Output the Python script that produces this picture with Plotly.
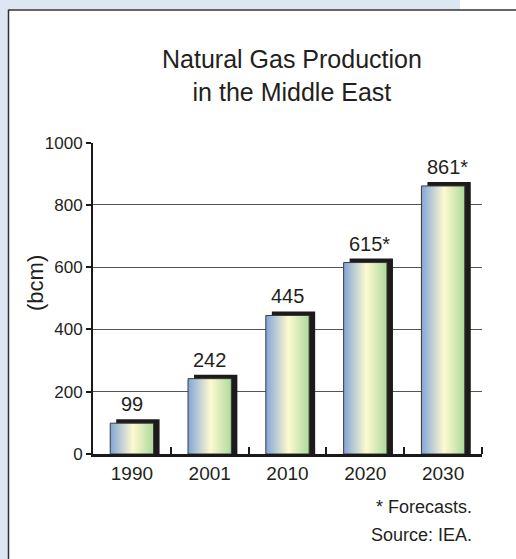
import plotly.graph_objects as go

# ---- data ----
years = ["1990", "2001", "2010", "2020", "2030"]
production_bcm = [99, 242, 445, 615, 861]
is_forecast = [False, False, False, True, True]
y_ticks = [0, 200, 400, 600, 800, 1000]

W, H = 516, 559
BG_BLUE = "#dde7f4"
TEXT = "#231f20"
FONT = "Liberation Sans, Arial, sans-serif"

# plot-area placement in pixels
px_left, px_right = 93, 482
px_zero, px_top = 454, 142.7
xdom = [px_left / W, px_right / W]
ydom = [(H - px_zero) / H, (H - px_top) / H]

n = len(years)
cat_px = (px_right - px_left) / n
unit_px = (px_zero - px_top) / 1000.0
bar_w = 0.557
sh_dx = 6 / cat_px
sh_dy = 4 / unit_px

idx = list(range(n))
fig = go.Figure()

# shadows
fig.add_trace(go.Bar(
    x=[i + sh_dx for i in idx],
    y=[v + sh_dy for v in production_bcm],
    width=bar_w,
    marker=dict(color="#1c1a1b", line=dict(width=0)),
    hoverinfo="skip", showlegend=False,
))

# gradient bars
for i, v in zip(idx, production_bcm):
    x0, x1 = i - bar_w / 2, i + bar_w / 2
    fig.add_trace(go.Scatter(
        x=[x0, x1, x1, x0, x0],
        y=[0, 0, v, v, 0],
        mode="lines",
        fill="toself",
        fillgradient=dict(
            type="horizontal",
            colorscale=[[0, "#82a5d8"], [0.52, "#fefad0"], [1, "#afd99d"]],
        ),
        line=dict(color="#3a3a3a", width=1),
        hoverinfo="skip", showlegend=False,
    ))

annotations = []
for i, v, f in zip(idx, production_bcm, is_forecast):
    annotations.append(dict(
        x=i, y=v, xref="x", yref="y",
        text=f"{v}" + ("*" if f else ""),
        showarrow=False, yanchor="bottom",
        yshift=6, xshift=4 if f else 0,
        font=dict(family=FONT, size=20, color=TEXT),
    ))

# title
annotations.append(dict(
    x=292 / W, y=1 - 75 / H, xref="paper", yref="paper",
    text="Natural Gas Production<br>in the Middle East",
    showarrow=False, xanchor="center", yanchor="middle",
    font=dict(family=FONT, size=25, color=TEXT),
))
# y-axis title
annotations.append(dict(
    x=35 / W, y=1 - 283 / H, xref="paper", yref="paper",
    text="(bcm)", textangle=-90, showarrow=False,
    xanchor="center", yanchor="middle",
    font=dict(family=FONT, size=22, color=TEXT),
))
# footnotes
annotations.append(dict(
    x=474 / W, y=1 - 507 / H, xref="paper", yref="paper",
    text="* Forecasts.", showarrow=False, xanchor="right", yanchor="middle",
    font=dict(family=FONT, size=18, color=TEXT),
))
annotations.append(dict(
    x=474 / W, y=1 - 535 / H, xref="paper", yref="paper",
    text="Source: IEA.", showarrow=False, xanchor="right", yanchor="middle",
    font=dict(family=FONT, size=18, color=TEXT),
))

shapes = [
    # light blue frame areas
    dict(type="rect", xref="paper", yref="paper", x0=0, x1=8 / W, y0=0, y1=1,
         fillcolor=BG_BLUE, line=dict(width=0), layer="below"),
    dict(type="rect", xref="paper", yref="paper", x0=0, x1=460 / W,
         y0=1 - 9.5 / H, y1=1, fillcolor=BG_BLUE, line=dict(width=0), layer="below"),
    # panel border
    dict(type="line", xref="paper", yref="paper", x0=8.5 / W, x1=8.5 / W,
         y0=0, y1=1 - 9.5 / H, line=dict(color="#333333", width=1.5), layer="below"),
    dict(type="line", xref="paper", yref="paper", x0=8.5 / W, x1=1,
         y0=1 - 10 / H, y1=1 - 10 / H, line=dict(color="#333333", width=1.5), layer="below"),
]

fig.update_layout(
    width=W, height=H,
    margin=dict(l=0, r=0, t=0, b=0, pad=0, autoexpand=False),
    paper_bgcolor="white", plot_bgcolor="white",
    showlegend=False, barmode="overlay",
    annotations=annotations, shapes=shapes,
    xaxis=dict(
        domain=xdom, range=[-0.5, n - 0.5], automargin=False,
        tickmode="array", tickvals=idx, ticktext=years,
        ticks="", showgrid=False, zeroline=False,
        showline=True, linecolor="#1a1a1a", linewidth=2.5,
        tickfont=dict(family=FONT, size=19, color=TEXT),
        minor=dict(tickmode="array", tickvals=[i + 0.5 for i in idx],
                   ticks="inside", ticklen=7, tickwidth=2, tickcolor="#1a1a1a",
                   showgrid=False),
        fixedrange=True,
    ),
    yaxis=dict(
        domain=ydom, range=[0, 1000], automargin=False,
        tickmode="array", tickvals=y_ticks,
        showgrid=True, gridcolor="#555555", gridwidth=1.3,
        zeroline=False, showline=True, linecolor="#1a1a1a", linewidth=2,
        ticks="outside", ticklen=5, tickwidth=1.5, tickcolor="#1a1a1a",
        tickfont=dict(family=FONT, size=17, color=TEXT),
        fixedrange=True,
    ),
)

fig.write_html(
    "out.html",
    config={"displayModeBar": False},
    post_script="document.body.style.margin='0';document.body.style.overflow='hidden';",
)
